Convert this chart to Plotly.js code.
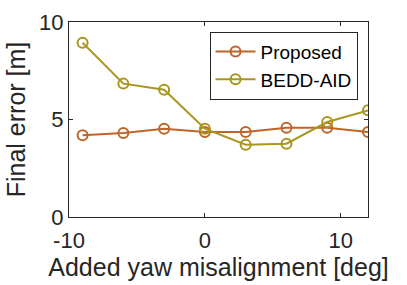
<!DOCTYPE html>
<html>
<head>
<meta charset="utf-8">
<script src="https://cdn.plot.ly/plotly-3.0.1.min.js"></script>
<style>html,body{margin:0;padding:0;background:#fff;}#chart{width:407px;height:285px;}</style>
</head>
<body>
<div id="chart"></div>
<script>
const yawMisalignment = [-9, -6, -3, 0, 3, 6, 9, 12];
const proposedError = [4.19, 4.31, 4.52, 4.36, 4.36, 4.58, 4.58, 4.36];
const beddAidError = [8.94, 6.84, 6.53, 4.53, 3.71, 3.76, 4.87, 5.47];
const seriesNames = ["Proposed", "BEDD-AID"];
const xTicks = [-10, 0, 10];
const yTicks = [0, 5, 10];

const font = "Liberation Sans, Arial, Helvetica, sans-serif";
const mk = (color) => ({symbol: "circle-open", size: 10, color: color, line: {width: 2, color: color}});

const traces = [
  {x: yawMisalignment, y: proposedError, name: seriesNames[0], mode: "lines+markers",
   line: {color: "#BF6529", width: 2}, marker: mk("#BF6529")},
  {x: yawMisalignment, y: beddAidError, name: seriesNames[1], mode: "lines+markers",
   line: {color: "#A8961F", width: 2}, marker: mk("#A8961F")}
];

const axisCommon = {
  showline: true, linecolor: "#262626", linewidth: 1, mirror: "allticks",
  ticks: "inside", ticklen: 4, tickcolor: "#262626", tickwidth: 1,
  showgrid: false, zeroline: false,
  tickfont: {family: font, size: 22, color: "#262626"}
};

const layout = {
  width: 407, height: 285,
  margin: {l: 69, r: 39, t: 22, b: 68},
  paper_bgcolor: "#fff", plot_bgcolor: "#fff",
  showlegend: true,
  legend: {x: 0.47, y: 0.95, xanchor: "left", yanchor: "top",
    bordercolor: "#262626", borderwidth: 1, bgcolor: "#fff",
    font: {family: font, size: 19, color: "#000"}, tracegroupgap: 0, itemwidth: 40},
  xaxis: Object.assign({}, axisCommon, {
    range: [-10, 12], tickvals: xTicks, ticktext: xTicks.map(String), ticklabelstandoff: 4,
    title: {text: "Added yaw misalignment [deg]", font: {family: font, size: 25, color: "#262626"}, standoff: 6}
  }),
  yaxis: Object.assign({}, axisCommon, {
    range: [0, 10], tickvals: yTicks, ticktext: yTicks.map(String),
    title: {text: "Final error [m]", font: {family: font, size: 25, color: "#262626"}, standoff: 6}
  })
};

Plotly.newPlot("chart", traces, layout, {displayModeBar: false, staticPlot: true});
</script>
</body>
</html>
